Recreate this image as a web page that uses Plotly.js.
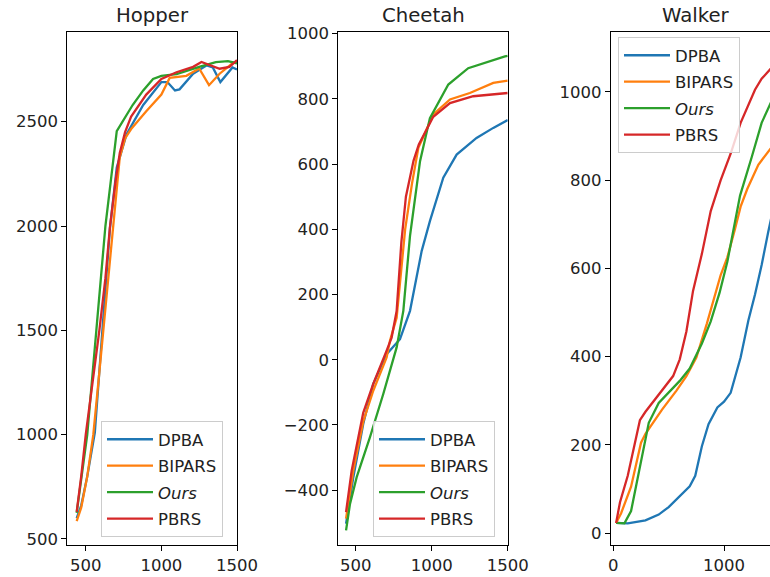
<!DOCTYPE html>
<html><head><meta charset="utf-8">
<script src="https://cdn.plot.ly/plotly-3.0.1.min.js"></script>
<style>html,body{margin:0;padding:0;overflow:hidden;background:#fff;width:770px;height:577px}#chart{width:790px;height:577px}</style>
</head><body><div id="chart"></div><script>
// ---- Data ----
const seriesNames = ['DPBA', 'BIPARS', '<i>Ours</i>', 'PBRS'];
const panelTitles = ['Hopper', 'Cheetah', 'Walker'];

// Hopper
const hopperDPBA_x = [440, 470, 510, 560, 610, 660, 705, 770, 880, 1000, 1040, 1090, 1120, 1210, 1300, 1340, 1390, 1470, 1500];
const hopperDPBA_y = [600, 660, 800, 1010, 1500, 1990, 2280, 2440, 2580, 2690, 2690, 2650, 2655, 2730, 2770, 2760, 2690, 2760, 2750];
const hopperBIPARS_x = [440, 470, 510, 550, 590, 630, 660, 700, 725, 760, 800, 900, 1000, 1055, 1100, 1165, 1250, 1315, 1385, 1470, 1500];
const hopperBIPARS_y = [585, 650, 800, 1000, 1300, 1600, 1850, 2150, 2330, 2420, 2465, 2550, 2630, 2710, 2715, 2720, 2755, 2675, 2730, 2780, 2790];
const hopperOurs_x = [440, 470, 510, 570, 630, 705, 760, 810, 880, 945, 1000, 1100, 1250, 1360, 1440, 1500];
const hopperOurs_y = [625, 790, 1000, 1500, 2000, 2455, 2520, 2580, 2650, 2705, 2720, 2728, 2763, 2786, 2790, 2780];
const hopperPBRS_x = [440, 470, 500, 545, 590, 630, 660, 700, 725, 760, 800, 900, 1000, 1100, 1210, 1265, 1320, 1385, 1450, 1500];
const hopperPBRS_y = [630, 800, 1000, 1250, 1500, 1750, 1995, 2230, 2350, 2450, 2525, 2630, 2705, 2737, 2763, 2786, 2772, 2754, 2763, 2795];

// Cheetah
const cheetahDPBA_x = [436, 484, 549, 615, 703, 791, 857, 934, 988, 1076, 1164, 1295, 1405, 1500];
const cheetahDPBA_y = [-503, -360, -197, -74, 17, 63, 150, 334, 425, 558, 629, 680, 711, 735];
const cheetahBIPARS_x = [436, 484, 549, 615, 703, 725, 769, 800, 825, 870, 912, 1010, 1120, 1251, 1405, 1500];
const cheetahBIPARS_y = [-487, -340, -190, -95, 7, 58, 129, 270, 400, 540, 650, 752, 798, 818, 849, 856];
const cheetahOurs_x = [436, 462, 506, 593, 681, 769, 813, 857, 923, 988, 1109, 1240, 1482, 1500];
const cheetahOurs_y = [-523, -442, -360, -238, -105, 38, 150, 380, 609, 741, 844, 894, 930, 932];
const cheetahPBRS_x = [436, 473, 549, 615, 703, 736, 769, 800, 830, 880, 915, 1010, 1120, 1273, 1500];
const cheetahPBRS_y = [-467, -340, -163, -74, 28, 68, 150, 360, 500, 610, 660, 745, 787, 808, 818];

// Walker
const walkerDPBA_x = [25, 130, 290, 410, 500, 600, 690, 740, 800, 860, 940, 1000, 1060, 1150, 1220, 1280, 1340, 1400, 1440];
const walkerDPBA_y = [23, 22, 29, 42, 59, 84, 106, 130, 197, 247, 285, 298, 318, 398, 482, 541, 608, 683, 730];
const walkerBIPARS_x = [25, 70, 160, 250, 290, 440, 570, 660, 750, 845, 970, 1030, 1100, 1150, 1210, 1310, 1440];
const walkerBIPARS_y = [23, 45, 105, 205, 225, 280, 323, 356, 398, 475, 585, 625, 690, 740, 780, 835, 878];
const walkerOurs_x = [25, 100, 160, 200, 255, 320, 410, 600, 690, 800, 880, 960, 1030, 1090, 1145, 1250, 1340, 1440];
const walkerOurs_y = [23, 22, 50, 100, 170, 250, 295, 345, 373, 430, 480, 545, 615, 690, 765, 852, 930, 985];
const walkerPBRS_x = [25, 60, 130, 240, 290, 410, 540, 600, 660, 720, 800, 880, 970, 1060, 1150, 1280, 1340, 1440];
const walkerPBRS_y = [23, 70, 130, 256, 275, 314, 356, 394, 457, 549, 633, 730, 800, 860, 930, 1005, 1030, 1058];

const colors = ['#1f77b4', '#ff7f0e', '#2ca02c', '#d62728'];

// ---- Build ----
const W = 790, H = 577;
const panels = [
  {xs: [hopperDPBA_x, hopperBIPARS_x, hopperOurs_x, hopperPBRS_x], ys: [hopperDPBA_y, hopperBIPARS_y, hopperOurs_y, hopperPBRS_y]},
  {xs: [cheetahDPBA_x, cheetahBIPARS_x, cheetahOurs_x, cheetahPBRS_x], ys: [cheetahDPBA_y, cheetahBIPARS_y, cheetahOurs_y, cheetahPBRS_y]},
  {xs: [walkerDPBA_x, walkerBIPARS_x, walkerOurs_x, walkerPBRS_x], ys: [walkerDPBA_y, walkerBIPARS_y, walkerOurs_y, walkerPBRS_y]}
];
const traces = [];
panels.forEach((p, i) => {
  const sfx = i === 0 ? '' : String(i + 1);
  for (let k = 0; k < 4; k++) {
    traces.push({
      type: 'scatter', mode: 'lines',
      x: p.xs[k], y: p.ys[k], name: seriesNames[k],
      xaxis: 'x' + sfx, yaxis: 'y' + sfx,
      legend: 'legend' + sfx, legendgroup: 'g' + i + '_' + k,
      line: {color: colors[k], width: 2.3}
    });
  }
});

const font = {family: 'DejaVu Sans, sans-serif', size: 16.5, color: '#222'};
function ax(extra) {
  return Object.assign({
    showline: true, mirror: true, linecolor: '#000', linewidth: 1,
    ticks: 'outside', ticklen: 5, tickwidth: 1, tickcolor: '#000',
    showgrid: false, zeroline: false, tickfont: font, fixedrange: true
  }, extra);
}
const yd = [1 - 545 / H, 1 - 32 / H];
const xdoms = [[67.3 / W, 237 / W], [338.3 / W, 507.7 / W], [610.7 / W, 781 / W]];
const xranges = [[378, 1500], [385, 1500], [-24, 1515]];
const yranges = [[471, 2930], [-568, 1005], [-27, 1136]];
const xticks = [[500, 1000, 1500], [500, 1000, 1500], [0, 1000]];
const yticks = [[500, 1000, 1500, 2000, 2500], [-400, -200, 0, 200, 400, 600, 800, 1000], [0, 200, 400, 600, 800, 1000]];
const legendPos = [[101, 421], [373, 421], [618, 37]];

const layout = {
  width: W, height: H,
  margin: {l: 0, r: 0, t: 0, b: 0},
  paper_bgcolor: '#fff', plot_bgcolor: '#fff',
  showlegend: true, font: font,
  annotations: []
};
for (let i = 0; i < 3; i++) {
  const sfx = i === 0 ? '' : String(i + 1);
  layout['xaxis' + sfx] = ax({domain: xdoms[i], range: xranges[i], tickvals: xticks[i], anchor: 'y' + sfx});
  layout['yaxis' + sfx] = ax({domain: yd, range: yranges[i], tickvals: yticks[i], anchor: 'x' + sfx});
  layout['legend' + sfx] = {
    x: legendPos[i][0] / W, y: 1 - legendPos[i][1] / H, xanchor: 'left', yanchor: 'top',
    bgcolor: 'rgba(255,255,255,0.8)', bordercolor: '#cccccc', borderwidth: 1,
    font: font, itemwidth: 46, traceorder: 'grouped', tracegroupgap: 2
  };
  layout.annotations.push({
    text: panelTitles[i], xref: 'paper', yref: 'paper',
    x: (xdoms[i][0] + xdoms[i][1]) / 2, y: 1 - 15 / H, xanchor: 'center', yanchor: 'middle',
    showarrow: false, font: {family: 'DejaVu Sans, sans-serif', size: 19.7, color: '#222'}
  });
}

Plotly.newPlot('chart', traces, layout, {staticPlot: true, displayModeBar: false});
</script></body></html>
